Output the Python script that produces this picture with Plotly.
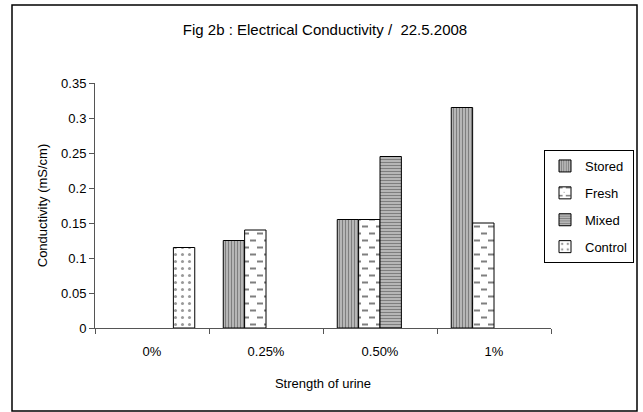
import plotly.graph_objects as go

categories = ["0%", "0.25%", "0.50%", "1%"]
stored = [None, 0.125, 0.155, 0.315]
fresh = [None, 0.14, 0.155, 0.15]
mixed = [None, None, 0.245, None]
control = [0.115, None, None, None]

FONT = "Liberation Sans, Arial, sans-serif"

fig = go.Figure()
fig.add_trace(go.Bar(name="Stored", x=categories, y=stored, legendgroup="a",
                     marker=dict(color="white", line=dict(color="black", width=1),
                                 pattern=dict(shape="|", size=3, solidity=0.5, fgcolor="#333", bgcolor="#c8c8c8", fillmode="overlay"))))
fig.add_trace(go.Bar(name="Fresh", x=categories, y=fresh, legendgroup="b",
                     marker=dict(color="white", line=dict(color="black", width=1),
                                 pattern=dict(path="M1,2.5H7V4.5H1Z M8,9.5H14V11.5H8Z", size=14, fgcolor="black", bgcolor="white", fillmode="overlay"))))
fig.add_trace(go.Bar(name="Mixed", x=categories, y=mixed, legendgroup="c",
                     marker=dict(color="white", line=dict(color="black", width=1),
                                 pattern=dict(shape="-", size=3, solidity=0.5, fgcolor="#333", bgcolor="#c8c8c8", fillmode="overlay"))))
fig.add_trace(go.Bar(name="Control", x=categories, y=control, legendgroup="d",
                     marker=dict(color="white", line=dict(color="black", width=1),
                                 pattern=dict(shape=".", size=7, solidity=0.15, fgcolor="#333", bgcolor="white", fillmode="overlay"))))

L, R, T, B = 95, 92, 83, 84
W, H = 643, 412
pw, ph = W - L - R, H - T - B

def px_x(x):
    return (x - L) / pw

def px_y(y):
    return (H - B - y) / ph

fig.update_layout(
    width=W, height=H,
    margin=dict(l=L, r=R, t=T, b=B, autoexpand=False),
    paper_bgcolor="white", plot_bgcolor="white",
    font=dict(family=FONT, size=13, color="black"),
    barmode="group", bargap=0.25, bargroupgap=0,
    showlegend=True,
    title=dict(text="Fig 2b : Electrical Conductivity /  22.5.2008", x=px_x(325), xanchor="center",
               xref="paper", y=1 - 30 / H, yanchor="middle", font=dict(size=15, family=FONT)),
    legend=dict(x=px_x(634), y=px_y(150), xanchor="right", yanchor="top",
                bordercolor="black", borderwidth=1, bgcolor="white",
                tracegroupgap=7, traceorder="grouped", font=dict(size=13)),
    shapes=[dict(type="rect", xref="paper", yref="paper",
                 x0=px_x(12), x1=px_x(637), y0=px_y(411), y1=px_y(5),
                 line=dict(color="black", width=1.5), layer="below")],
)
fig.update_xaxes(showline=True, linecolor="#555", linewidth=1, ticks="outside", tickson="boundaries",
                 ticklen=5, tickcolor="#555", showgrid=False, ticklabelstandoff=11,
                 title=dict(text="Strength of urine", standoff=21, font=dict(size=13)))
fig.update_yaxes(range=[0, 0.35], dtick=0.05, showline=True, linecolor="#555", linewidth=1,
                 ticks="outside", ticklen=5, tickcolor="#555", showgrid=False, zeroline=False,
                 tickformat="~g",
                 title=dict(text="Conductivity (mS/cm)", standoff=10, font=dict(size=13)))

fig.write_html("out.html", config={"displayModeBar": False},
               post_script="document.body.style.margin='0';")
